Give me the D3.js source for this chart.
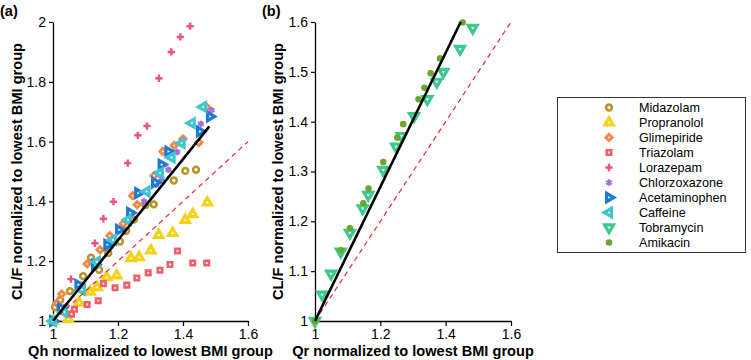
<!DOCTYPE html>
<html>
<head>
<meta charset="utf-8">
<script src="https://cdn.jsdelivr.net/npm/d3@7"></script>
<style>
  body { margin: 0; background: #fff; }
  svg text { font-family: Arial, "Liberation Sans", sans-serif; }
  .tick text { font-size: 14px; fill: #000; }
  .axisTitle { font-size: 14.6px; font-weight: bold; }
  .keyText { font-size: 12.6px; }
</style>
</head>
<body>
<div id="graphicContainer"></div>
<script>

// [normalized Qh or Qr, normalized CL/F]
const midazolam = [[1,1],[1.006,1.046],[1.022,1.07],[1.052,1.1],[1.093,1.15],[1.117,1.212],[1.142,1.171],[1.17,1.227],[1.206,1.266],[1.225,1.302],[1.249,1.339],[1.285,1.388],[1.31,1.39],[1.372,1.47],[1.407,1.502],[1.44,1.506]]
const propranolol = [[1,1],[1.047,1.006],[1.08,1.061],[1.114,1.098],[1.136,1.112],[1.165,1.146],[1.196,1.152],[1.24,1.21],[1.265,1.213],[1.301,1.236],[1.325,1.288],[1.368,1.294],[1.407,1.338],[1.43,1.357],[1.475,1.396]]
const glimepiride = [[1,1],[1.012,1.06],[1.027,1.09],[1.105,1.191],[1.145,1.238],[1.175,1.285],[1.216,1.325],[1.245,1.419],[1.259,1.389],[1.311,1.486],[1.338,1.567],[1.373,1.587],[1.4,1.609],[1.449,1.597],[1.473,1.715]]
const triazolam = [[1,1],[1.057,1.023],[1.066,1.039],[1.105,1.055],[1.139,1.068],[1.155,1.125],[1.191,1.111],[1.227,1.12],[1.258,1.144],[1.293,1.161],[1.329,1.17],[1.36,1.189],[1.383,1.234],[1.43,1.194],[1.473,1.194]]
const lorazepam = [[1,1],[1.055,1.14],[1.129,1.26],[1.155,1.342],[1.186,1.399],[1.23,1.528],[1.261,1.621],[1.289,1.652],[1.326,1.812],[1.364,1.9],[1.392,1.95],[1.422,1.986]]
const chlorzoxazone = [[1,1],[1.04,1.05],[1.09,1.12],[1.14,1.19],[1.19,1.27],[1.24,1.35],[1.28,1.4],[1.317,1.456],[1.334,1.476],[1.355,1.506],[1.382,1.565],[1.455,1.659],[1.488,1.705]]
const acetaminophen = [[1,1],[1.024,1.043],[1.078,1.121],[1.129,1.188],[1.167,1.255],[1.203,1.305],[1.237,1.362],[1.262,1.428],[1.314,1.463],[1.334,1.523],[1.355,1.567],[1.452,1.634],[1.483,1.684]]
const caffeine = [[1,1],[1.034,1.03],[1.089,1.104],[1.135,1.198],[1.185,1.271],[1.231,1.338],[1.288,1.433],[1.329,1.495],[1.365,1.547],[1.396,1.595],[1.427,1.662],[1.462,1.716]]
const tobramycin = [[1,1],[1.022,1.053],[1.049,1.095],[1.079,1.139],[1.107,1.177],[1.146,1.226],[1.163,1.253],[1.209,1.303],[1.248,1.35],[1.265,1.371],[1.303,1.411],[1.344,1.445],[1.373,1.48],[1.393,1.5],[1.444,1.546],[1.483,1.588]]
const amikacin = [[1,1],[1.079,1.142],[1.107,1.186],[1.148,1.236],[1.164,1.266],[1.209,1.319],[1.252,1.368],[1.27,1.395],[1.317,1.445],[1.335,1.468],[1.354,1.497],[1.383,1.527],[1.452,1.599]]

// fitted (solid) lines, start and end
const fitA = [[1,1],[1.481,1.651]]
const fitB = [[1,1],[1.446,1.6]]
const identity = [[1,1],[1.6,1.6]]

const xTicks = [1, 1.2, 1.4, 1.6]
const yTicksA = [1, 1.2, 1.4, 1.6, 1.8, 2]
const yTicksB = [1, 1.1, 1.2, 1.3, 1.4, 1.5, 1.6]

const drugs = [
  { name: "Midazolam", data: midazolam, panel: "a", color: "#b8952b", shape: "circle" },
  { name: "Propranolol", data: propranolol, panel: "a", color: "#f3d21c", shape: "triangle" },
  { name: "Glimepiride", data: glimepiride, panel: "a", color: "#f58848", shape: "diamond" },
  { name: "Triazolam", data: triazolam, panel: "a", color: "#f1606a", shape: "square" },
  { name: "Lorazepam", data: lorazepam, panel: "a", color: "#e9528d", shape: "plus" },
  { name: "Chlorzoxazone", data: chlorzoxazone, panel: "a", color: "#a46ee2", shape: "star" },
  { name: "Acetaminophen", data: acetaminophen, panel: "a", color: "#1e7bd2", shape: "right" },
  { name: "Caffeine", data: caffeine, panel: "a", color: "#3ec4d2", shape: "left" },
  { name: "Tobramycin", data: tobramycin, panel: "b", color: "#3ec98c", shape: "down" },
  { name: "Amikacin", data: amikacin, panel: "b", color: "#6aa82d", shape: "dot" }
]

const svg = d3.select("#graphicContainer")
  .append("svg")
  .attr("width", 751)
  .attr("height", 360)

function addMarker(g, shape, color, cx, cy) {
  const t = "translate(" + cx + "," + cy + ")"
  if (shape == "dot") {
    g.append("circle").attr("cx", cx).attr("cy", cy).attr("r", 3.3).attr("fill", color)
    return
  }
  if (shape == "circle") {
    g.append("circle").attr("cx", cx).attr("cy", cy).attr("r", 2.9)
      .attr("fill", "#fff").attr("stroke", color).attr("stroke-width", 2.6)
    return
  }
  if (shape == "plus") {
    g.append("path").attr("transform", t).attr("d", d3.symbol(d3.symbolCross, 30)())
      .attr("fill", color)
    return
  }
  if (shape == "star") {
    g.append("path").attr("transform", t).attr("d", d3.symbol(d3.symbolAsterisk, 30)())
      .attr("fill", "none").attr("stroke", color).attr("stroke-width", 2.2)
    return
  }
  let sym = d3.symbolTriangle, size = 30, rot = 0, sw = 3.2
  if (shape == "square") { sym = d3.symbolSquare; size = 20; sw = 2.6 }
  if (shape == "diamond") { sym = d3.symbolSquare; size = 20; rot = 45; sw = 2.8 }
  if (shape == "right") rot = 90
  if (shape == "left") rot = -90
  if (shape == "down") { rot = 180; size = 34 }
  g.append("path").attr("transform", t + " rotate(" + rot + ")")
    .attr("d", d3.symbol(sym, size)())
    .attr("fill", "#fff").attr("stroke", color).attr("stroke-width", sw)
    .attr("stroke-linejoin", "miter")
}

function drawPanel(opt) {
  const { left, right, top, bottom, yMax, yTicks, panel, fit, xTitle, label, labelX, titleX } = opt

  const x = d3.scaleLinear().domain([1, 1.6]).range([left, right])
  const y = d3.scaleLinear().domain([1, yMax]).range([bottom, top])

  const fmt = (d) => d == 1 || d == 2 ? d3.format("d")(d) : d3.format(".1f")(d)

  const features = svg.append("g")

  features.append("g")
    .attr("transform", "translate(0," + bottom + ")")
    .call(d3.axisBottom(x).tickValues(xTicks).tickSize(5).tickSizeOuter(0).tickPadding(3).tickFormat(fmt))

  features.append("g")
    .attr("transform", "translate(" + left + ",0)")
    .call(d3.axisLeft(y).tickValues(yTicks).tickSize(4).tickSizeOuter(0).tickPadding(3).tickFormat(fmt))

  features.selectAll(".domain").attr("stroke", "#000").attr("stroke-width", 1.3)
  features.selectAll(".tick line").attr("stroke", "#000").attr("stroke-width", 1.2)

  const marks = features.append("g")
  drugs.filter((d) => d.panel == panel).forEach((drug) => {
    drug.data.forEach((p) => addMarker(marks, drug.shape, drug.color, x(p[0]), y(p[1])))
  })

  const line = d3.line().x((d) => x(d[0])).y((d) => y(d[1]))

  features.append("path")
    .attr("d", line(identity))
    .attr("fill", "none")
    .attr("stroke", "#f0262c")
    .attr("stroke-width", 1.2)
    .attr("stroke-dasharray", "5 4")

  features.append("path")
    .attr("d", line(fit))
    .attr("fill", "none")
    .attr("stroke", "#000")
    .attr("stroke-width", 2.6)

  svg.append("text")
    .attr("class", "axisTitle")
    .attr("x", (left + right) / 2)
    .attr("y", 356)
    .attr("text-anchor", "middle")
    .text(xTitle)

  svg.append("text")
    .attr("class", "axisTitle")
    .attr("transform", "translate(" + titleX + "," + (top + bottom) / 2 + ") rotate(-90)")
    .attr("text-anchor", "middle")
    .text("CL/F normalized to lowest BMI group")

  svg.append("text")
    .attr("class", "axisTitle")
    .attr("x", labelX)
    .attr("y", 16)
    .text(label)
}

drawPanel({ left: 53, right: 248, top: 22, bottom: 321, yMax: 2, yTicks: yTicksA, panel: "a",
  fit: fitA, xTitle: "Qh normalized to lowest BMI group", label: "(a)", labelX: 0, titleX: 22 })

drawPanel({ left: 315, right: 511, top: 22, bottom: 321, yMax: 1.6, yTicks: yTicksB, panel: "b",
  fit: fitB, xTitle: "Qr normalized to lowest BMI group", label: "(b)", labelX: 262, titleX: 283 })

// legend
const key = svg.append("g")
key.append("rect")
  .attr("x", 557.5).attr("y", 97.5)
  .attr("width", 188).attr("height", 155)
  .attr("fill", "#fff").attr("stroke", "#333").attr("stroke-width", 1)

drugs.forEach((drug, i) => {
  const cy = 107.5 + i * 15
  addMarker(key, drug.shape, drug.color, 609, cy)
  key.append("text")
    .attr("class", "keyText")
    .attr("x", 639)
    .attr("y", cy)
    .attr("dy", "0.36em")
    .text(drug.name)
})

</script>
</body>
</html>
